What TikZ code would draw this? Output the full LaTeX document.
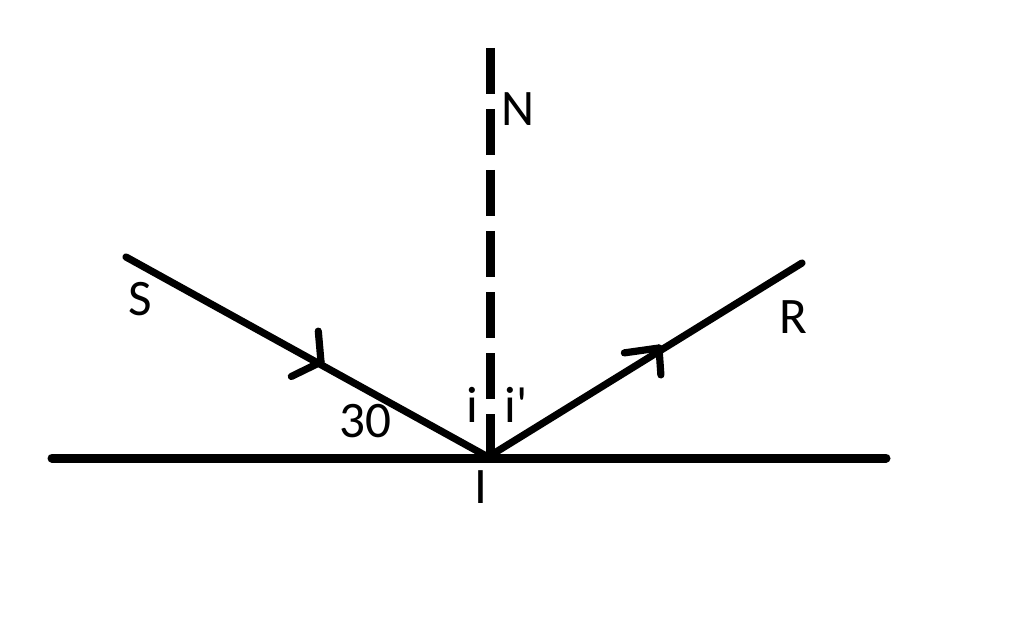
\documentclass[tikz,border=0pt]{standalone}
\usepackage{fontspec}
\setmainfont{Carlito}
\usepackage{tikz}

\begin{document}
\begin{tikzpicture}[x=0.5pt,y=0.5pt,
	ray/.style={line width=3.6pt,line cap=round},
	lbl/.style={anchor=base,inner sep=0pt,font=\fontsize{25.6}{30}\selectfont}]
	
	\useasboundingbox (0,0) rectangle (1024,-626);
	
	\coordinate (m1) at (52,-458);
	\coordinate (m2) at (886,-458);
	\coordinate (i) at (488,-457);
	\coordinate (n) at (490,-48);
	\coordinate (nb) at (490,-458);
	\coordinate (s) at (126,-257);
	\coordinate (r) at (802,-263);
	
	% mirror and normal
	\draw[line width=4.5pt,line cap=round](m1) -- (m2);
	\draw[line width=4.5pt,dash pattern=on 23pt off 7.5pt](n) -- (nb);
	
	% rays
	\draw[ray](s) -- (i) -- (r);
	
	% arrow marks
	\coordinate (ca) at (321,-362);
	\coordinate (cb) at (659,-348);
	\draw[ray](ca) -- ++(95:31);
	\draw[ray](ca) -- ++(206:33);
	\draw[ray](cb) -- ++(188:35);
	\draw[ray](cb) -- ++(274:27);
	
	\node[lbl] (lN) at (518,-126) {N};
	\node[lbl] (lS) at (140,-315) {S};
	\node[lbl] (lR) at (793,-333) {R};
	\node[lbl] (l30) at (365,-437) {30};
	\node[lbl] (li) at (472,-422) {i};
	\node[lbl] (lii) at (516,-422) {i\textquotesingle};
	\node[lbl] (lI) at (481,-503) {I};
	
\end{tikzpicture}
\end{document}
